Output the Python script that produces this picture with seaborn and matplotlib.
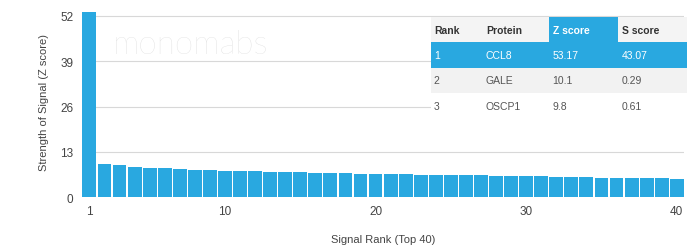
import matplotlib
matplotlib.use("Agg")
import pandas as pd
import seaborn as sns
import matplotlib.pyplot as plt

# Top 40 signal ranks (Z score)
ranks = list(range(1, 41))
z_scores = [53.17, 9.4, 9.1, 8.6, 8.3, 8.2, 8.0, 7.9, 7.7, 7.6,
            7.5, 7.4, 7.3, 7.2, 7.1, 7.0, 6.9, 6.8, 6.7, 6.7,
            6.6, 6.5, 6.4, 6.4, 6.3, 6.2, 6.2, 6.1, 6.0, 6.0,
            5.9, 5.8, 5.8, 5.7, 5.6, 5.6, 5.5, 5.4, 5.4, 5.3]

# table values
tbl_cols = ["Rank", "Protein", "Z score", "S score"]
tbl_rank = ["1", "2", "3"]
tbl_protein = ["CCL8", "GALE", "OSCP1"]
tbl_z = ["53.17", "10.1", "9.8"]
tbl_s = ["43.07", "0.29", "0.61"]

y_ticks = [0, 13, 26, 39, 52]
x_tick_labels = ["1", "10", "20", "30", "40"]

blue = "#29a8e0"
txt = "#444444"

df = pd.DataFrame({"rank": ranks, "z": z_scores})

sns.set_style("white")
plt.rcParams["font.family"] = ["Liberation Sans", "DejaVu Sans"]

fig = plt.figure(figsize=(6.94, 2.51), dpi=100)
ax = fig.add_axes([0.118, 0.211, 0.868, 0.763])

sns.barplot(data=df, x="rank", y="z", color=blue, saturation=1, width=0.92,
            edgecolor="none", ax=ax, zorder=2)

ax.set_ylim(0, 55)
ax.set_xlim(-0.5, 39.5)
ax.set_yticks(y_ticks)
ax.set_yticklabels([str(v) for v in y_ticks], color=txt, fontsize=8.5)
ax.set_xticks([int(l) - 1 for l in x_tick_labels])
ax.set_xticklabels(x_tick_labels, color=txt, fontsize=8.5)
ax.tick_params(length=0, pad=6)
for v in y_ticks[1:]:
    ax.axhline(v, color="#d8d8d8", lw=0.8, zorder=1)
ax.axhline(0, color="#cccccc", lw=0.8, zorder=1)
sns.despine(ax=ax, left=True, bottom=True)

ax.set_xlabel("Signal Rank (Top 40)", color=txt, fontsize=8, labelpad=12)
ax.set_ylabel("Strength of Signal (Z score)", color=txt, fontsize=8, labelpad=8)

# watermark
ax.text(0.18, 0.8, "monomabs", transform=ax.transAxes, fontsize=24,
        color="#dcdcdc", ha="center", va="center", zorder=1,
        family="Lato", fontweight="light")

# ranking table
rows = [list(r) for r in zip(tbl_rank, tbl_protein, tbl_z, tbl_s)]
colors = [[blue] * 4, ["#f2f2f2"] * 4, ["white"] * 4]
head_colors = ["#f4f4f4", "#f4f4f4", blue, "#f4f4f4"]
table = ax.table(cellText=rows, colLabels=tbl_cols, cellColours=colors,
                 colColours=head_colors, cellLoc="left", colLoc="left",
                 colWidths=[0.2, 0.26, 0.27, 0.27],
                 bbox=[0.58, 0.41, 0.425, 0.53], zorder=3)
table.auto_set_font_size(False)
for (r, c), cell in table.get_celld().items():
    cell.set_edgecolor(cell.get_facecolor())
    cell.set_linewidth(0)
    cell.PAD = 0.05
    t = cell.get_text()
    t.set_fontsize(7.5)
    if r == 0:
        t.set_fontweight("bold")
        t.set_color("white" if c == 2 else "#333333")
    elif r == 1:
        t.set_color("white")
    else:
        t.set_color("#555555")

fig.savefig("out.png", dpi=100)
